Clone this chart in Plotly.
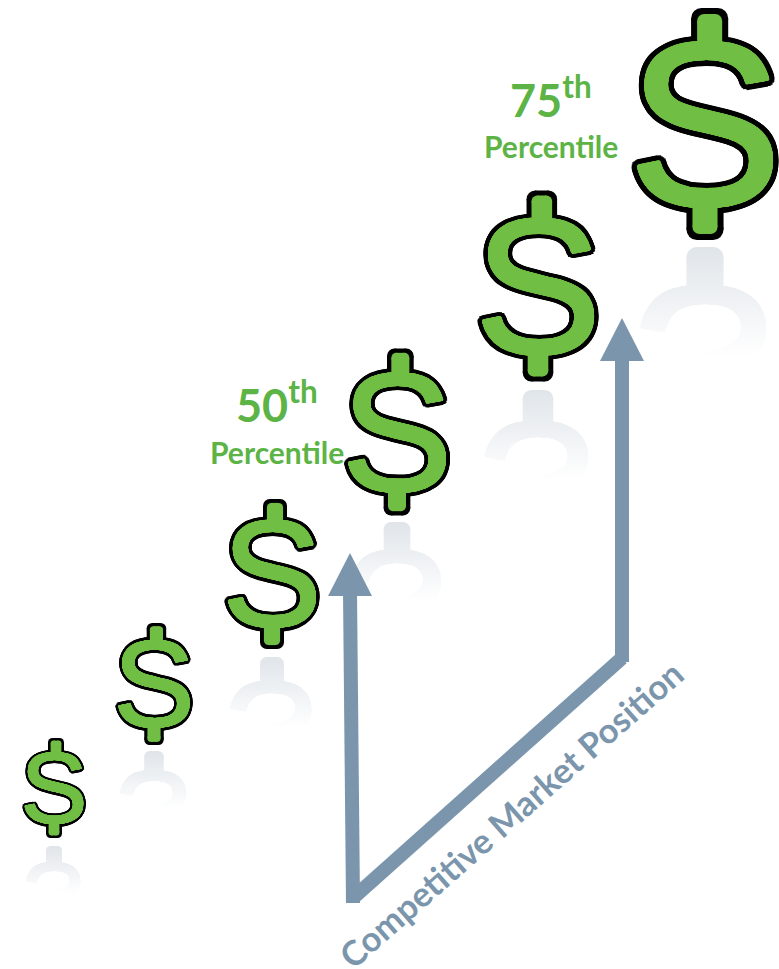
import math
import plotly.graph_objects as go

# Dollar signs, smallest to largest: centre and height
dollar_x = [54, 154, 272, 397, 538, 705]
dollar_y = [788, 684, 574, 432, 286, 124]
dollar_h = [100, 122, 150, 167, 191, 232]
reflection_top = [846, 751, 657, 522, 390, 247]

# Tier labels
tier_labels = ["50", "75"]
tier_x = [277, 551]
tier_y = [402, 97]
word_y = [452, 146]
tier_word = "Percentile"

# Arrows
left_arrow_x = [353, 350]
left_arrow_y = [903, 590]
left_tip = (350, 553)
diag_x = [353, 622]
diag_y = [898, 658]
right_arrow_x = [622, 622]
right_arrow_y = [662, 355]
right_tip = (622, 318)
axis_label = "Competitive Market Position"

GREEN = "#70bf44"
TEXT_GREEN = "#5db446"
STEEL = "#7b96ac"
REFLECT = "#e0e5ea"
S_FONT = "Liberation Sans"
W, H = 779, 969
HEAD_W, HEAD_H = 44, 43
S_SIZE = 1.0        # font size relative to the height of the sign
S_SHIFT = 0.098     # text baseline correction relative to the height of the sign


def ring(r, color):
    parts = []
    for k in range(24):
        a = 2 * math.pi * k / 24
        parts.append(f"{r * math.cos(a):.2f}px {r * math.sin(a):.2f}px 0.3px {color}")
    return ", ".join(parts)


def add_line(xs, ys, color, width):
    fig.add_trace(go.Scatter(x=xs, y=ys, mode="lines", line=dict(color=color, width=width),
                             showlegend=False, hoverinfo="skip"))


def add_s(x, y, h, color, shadow, text="S"):
    fig.add_trace(go.Scatter(x=[x], y=[y + h * S_SHIFT], mode="text", text=[text], textposition="middle center",
                             textfont=dict(family=S_FONT, size=h * S_SIZE, color=color, shadow=shadow),
                             showlegend=False, hoverinfo="skip"))


def add_stem(x, end, inner_end, color, width):
    """Stem with rounded corners running from end (its tip) to inner_end."""
    c = width * 0.28
    sign = 1 if inner_end > end else -1
    add_line([x, x], [end + sign * c, inner_end], color, width)
    add_line([x, x], [end, end + sign * c * 1.2], color, width - 2 * c)
    fig.add_trace(go.Scatter(x=[x - width / 2 + c, x + width / 2 - c], y=[end + sign * c] * 2, mode="markers",
                             marker=dict(color=color, size=2 * c, line=dict(width=0)),
                             showlegend=False, hoverinfo="skip"))


fig = go.Figure()

# Reflections: reversed S plus a stem, faded by a white gradient
for x, top, h in zip(dollar_x, reflection_top, dollar_h):
    add_s(x, top + h * 0.52, h, REFLECT, ring(h * 0.008, REFLECT), "Ƨ")
    add_stem(x, top, top + h * 0.2, REFLECT, h * 0.16)
    half = h * 0.37
    y0, y1 = top - 4, top + h * 1.15
    fig.add_trace(go.Scatter(
        x=[x - half, x + half, x + half, x - half, x - half],
        y=[y0, y0, y1, y1, y0], mode="lines", line=dict(width=0),
        fill="toself",
        fillgradient=dict(
            type="vertical", start=top, stop=top + h * 0.47,
            colorscale=[[0, "rgba(255,255,255,0)"], [1, "rgba(255,255,255,1)"]]),
        showlegend=False, hoverinfo="skip"))

# Dollar signs: black layer (outline) then green layer
for x, y, h in zip(dollar_x, dollar_y, dollar_h):
    tx = x + h * 0.02
    add_stem(tx, y - h / 2, y - h * 0.34, "#000000", h * 0.16)
    add_stem(x, y + h / 2, y + h * 0.34, "#000000", h * 0.16)
    add_s(x, y, h, "#000000", ring(h * 0.030, "#000000"))
for x, y, h in zip(dollar_x, dollar_y, dollar_h):
    tx = x + h * 0.02
    edge = h * 0.026
    add_stem(tx, y - h / 2 + edge, y - h * 0.34, GREEN, h * 0.108)
    add_stem(x, y + h / 2 - edge, y + h * 0.34, GREEN, h * 0.108)
    add_s(x, y, h, GREEN, ring(h * 0.006, GREEN))

# Arrows
for xs, ys in [(left_arrow_x, left_arrow_y), (diag_x, diag_y), (right_arrow_x, right_arrow_y)]:
    add_line(xs, ys, STEEL, 14)
for tx, ty in [left_tip, right_tip]:
    fig.add_trace(go.Scatter(
        x=[tx, tx + HEAD_W / 2, tx - HEAD_W / 2, tx],
        y=[ty, ty + HEAD_H, ty + HEAD_H, ty], mode="lines",
        line=dict(width=0), fill="toself", fillcolor=STEEL,
        showlegend=False, hoverinfo="skip"))

annotations = []
for label, x, y, wy in zip(tier_labels, tier_x, tier_y, word_y):
    annotations.append(dict(
        x=x, y=y, xref="x", yref="y", text=f"<b>{label}<sup>th</sup></b>",
        showarrow=False, xanchor="center", yanchor="middle",
        font=dict(family="Lato", size=45, color=TEXT_GREEN)))
    annotations.append(dict(
        x=x, y=wy, xref="x", yref="y", text=f"<b>{tier_word}</b>",
        showarrow=False, xanchor="center", yanchor="middle",
        font=dict(family="Lato", size=30, color=TEXT_GREEN)))
annotations.append(dict(
    x=510, y=814, xref="x", yref="y", text=f"<b>{axis_label}</b>",
    showarrow=False, textangle=-41.3, xanchor="center", yanchor="middle",
    font=dict(family="Lato", size=34.5, color=STEEL)))

fig.update_layout(
    width=W, height=H, margin=dict(l=0, r=0, t=0, b=0),
    paper_bgcolor="white", plot_bgcolor="white", showlegend=False,
    xaxis=dict(range=[0, W], visible=False, fixedrange=True),
    yaxis=dict(range=[H, 0], visible=False, fixedrange=True),
    annotations=annotations)

fig.write_html("out.html", config={"displayModeBar": False},
               post_script="document.body.style.margin='0';")
